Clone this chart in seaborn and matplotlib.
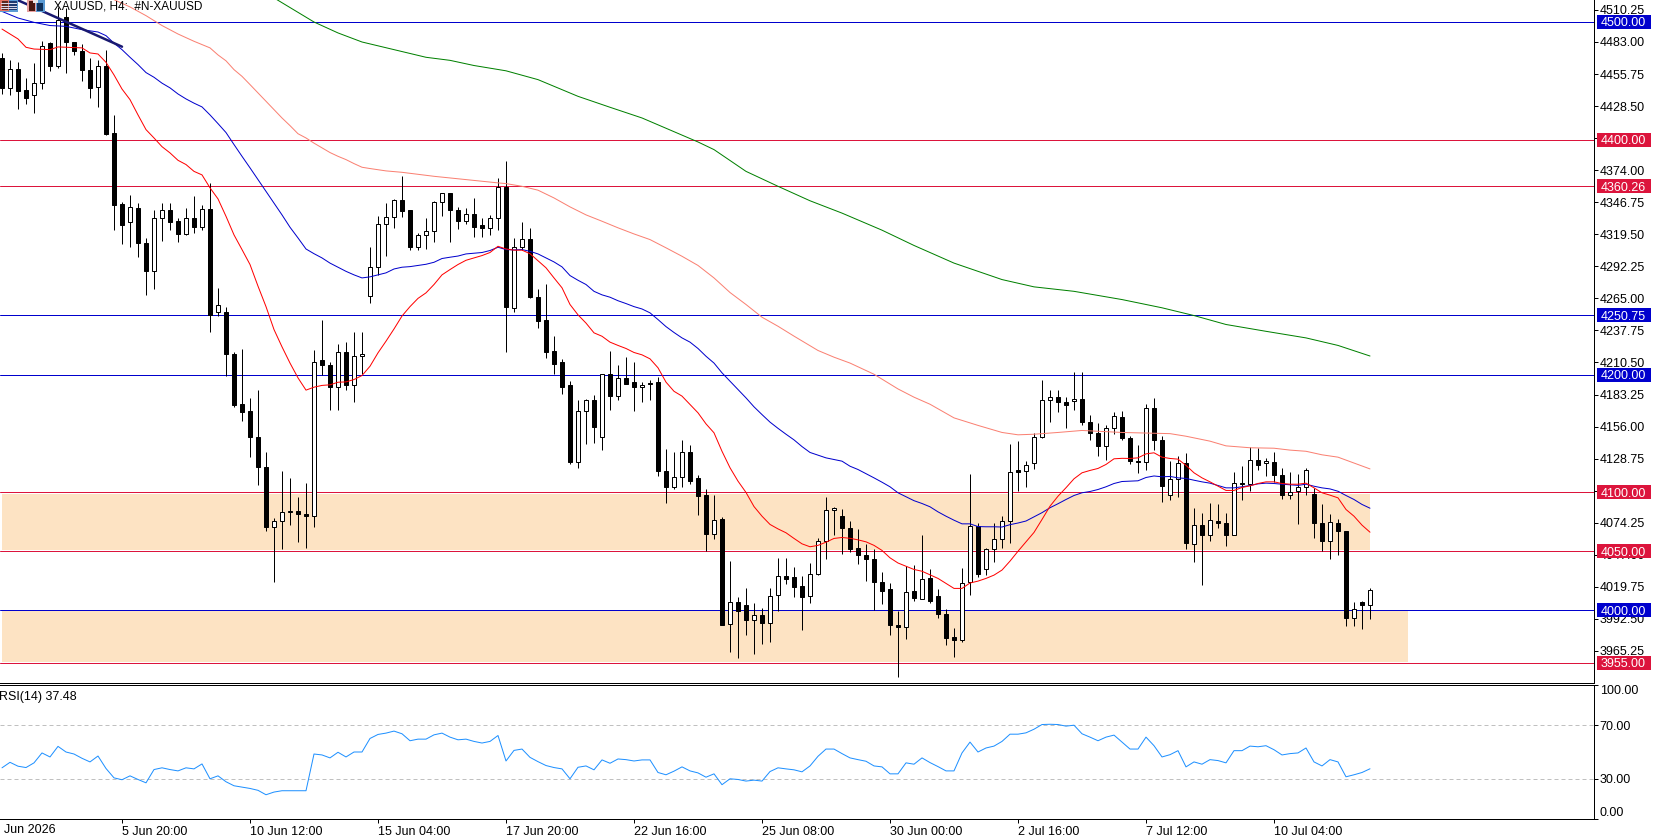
import matplotlib
matplotlib.use("Agg")
import matplotlib.pyplot as plt
from matplotlib.patches import Rectangle
from matplotlib.transforms import blended_transform_factory
import numpy as np
import pandas as pd
import seaborn as sns

# XAUUSD H4 candles, oldest first
opens = [
    4469, 4444, 4460, 4442, 4438, 4448, 4482, 4463, 4504, 4483,
    4475, 4459, 4445, 4463, 4406, 4345, 4330, 4342, 4312, 4288,
    4333, 4340, 4331, 4320, 4333, 4326, 4341, 4253, 4253, 4218,
    4175, 4169, 4147, 4122, 4071, 4076, 4083, 4084.5, 4082, 4080,
    4213, 4208.5, 4190, 4219.5, 4191, 4216, 4267, 4292, 4328, 4334,
    4349, 4340, 4308.5, 4319, 4322, 4347, 4355, 4340, 4331, 4337,
    4327, 4325, 4333, 4360, 4257, 4308.5, 4315.5, 4266.5, 4247, 4220,
    4211, 4191, 4126, 4169.5, 4179, 4147, 4201, 4182, 4197.7, 4193.5,
    4189.5, 4193, 4193.5, 4118.4, 4105, 4113, 4134.5, 4112, 4097.4, 4064.5,
    4077, 3988, 4007, 4004, 3991.7, 3996, 3989, 4012.7, 4029, 4027.7,
    4020.6, 4012, 4031, 4059, 4085, 4079.6, 4070, 4052.4, 4047, 4043.6,
    4024, 4018, 3987.5, 3985.5, 4015.8, 4009.6, 4027, 4011.6, 3997, 3976.7,
    3974.5, 4023.5, 4071.6, 4034.8, 4052, 4060.6, 4075.6, 4118.7, 4118.4, 4125,
    4147, 4178.7, 4181, 4177.3, 4178, 4179.6, 4160, 4150.7, 4139.3, 4155,
    4164, 4146.4, 4127, 4126, 4172, 4144.7, 4098, 4111.6, 4125, 4056.3,
    4072.5, 4064, 4075.9, 4074, 4064, 4108, 4107.3, 4127.7, 4125.2, 4126,
    4115, 4098, 4101, 4104.8, 4098.3, 4074, 4058.9, 4074, 4067.4, 3993,
    4006.5, 4004.2,
]
closes = [
    4444, 4460, 4441, 4435, 4448, 4480, 4463, 4502, 4483, 4475,
    4459, 4444, 4463, 4405, 4344, 4327, 4343, 4312, 4288, 4333,
    4340, 4330, 4320, 4333, 4326, 4341, 4251, 4259.5, 4217.5, 4174,
    4168, 4147, 4121.5, 4071, 4076, 4083, 4084.5, 4081.5, 4080, 4211,
    4208, 4189.5, 4219.5, 4191, 4216, 4218, 4292, 4328, 4334, 4349,
    4339, 4308.5, 4319, 4322, 4347, 4355, 4340, 4330.6, 4337, 4326,
    4325, 4333, 4360, 4257.5, 4308.5, 4315.5, 4266, 4246, 4219, 4209,
    4190, 4125.5, 4169.5, 4179, 4155.5, 4201, 4182, 4197.5, 4192.6, 4189.5,
    4191, 4192, 4118, 4105, 4113, 4134.5, 4109.6, 4097, 4064.5, 4076.5,
    3987, 4007, 3999, 3991.5, 3995.7, 3989, 4012, 4029, 4026, 4020,
    4011, 4031, 4059, 4085, 4087, 4069.6, 4051.5, 4046.7, 4043, 4023.7,
    4016, 3987, 3985.5, 4015.5, 4010, 4026.6, 4007.6, 3996.3, 3976, 3974.5,
    4023, 4071.6, 4030.8, 4052, 4060.6, 4075.6, 4117.5, 4117, 4123.5, 4147,
    4178.7, 4181, 4177, 4174, 4179.6, 4160, 4150.4, 4139.3, 4155, 4165,
    4146, 4127, 4125.7, 4172, 4144.4, 4105.3, 4111.6, 4125, 4057, 4072.5,
    4063.7, 4076.7, 4074, 4063.7, 4107.9, 4107, 4127.7, 4123.2, 4126.9, 4114.7,
    4098, 4100, 4104.8, 4119, 4074, 4058.6, 4075, 4067, 3993, 4001,
    4004.2, 4017.2,
]
highs = [
    4474, 4468, 4466, 4452, 4465, 4484, 4483, 4513, 4512, 4483,
    4481, 4469, 4468, 4476, 4421, 4347, 4353, 4346, 4316, 4340,
    4346, 4346, 4333, 4342, 4352, 4344, 4363, 4274, 4258, 4219,
    4222, 4180, 4187, 4134.5, 4078, 4118, 4112, 4096, 4108, 4221,
    4247, 4211, 4226.5, 4228, 4236, 4236, 4309, 4335, 4346, 4349.5,
    4369, 4340, 4321, 4333, 4348, 4355, 4355, 4343, 4342, 4350,
    4333, 4336, 4367, 4382, 4316, 4330, 4325, 4273, 4277, 4233,
    4213.5, 4195, 4179, 4179.6, 4183, 4201, 4220.6, 4208, 4215, 4210.5,
    4194, 4196, 4198, 4137, 4134, 4145, 4140, 4115, 4102.5, 4098,
    4079, 4042, 4011, 4019, 4006, 4002, 4019, 4044, 4044.4, 4037,
    4029, 4040, 4061.4, 4096, 4087.8, 4085.5, 4076, 4068.5, 4055.8, 4052,
    4032, 4022.6, 3999, 4037.3, 4038, 4063.4, 4034.5, 4018, 4000.5, 3985,
    4036, 4116, 4073.6, 4053, 4074, 4080, 4140.8, 4144, 4127, 4150.7,
    4196, 4186.7, 4186.7, 4181, 4202, 4202.8, 4166, 4159, 4157, 4168,
    4169, 4147.8, 4140, 4175.3, 4180.7, 4148, 4127, 4130.8, 4133.7, 4086.4,
    4082.7, 4091, 4089.8, 4082.7, 4117.8, 4122.6, 4138.5, 4137.4, 4128.9, 4134.5,
    4120.4, 4117.8, 4115.8, 4120.4, 4103.4, 4089.8, 4081.3, 4077, 4067.4, 4006.5,
    4007.6, 4019,
]
lows = [
    4439, 4438, 4426, 4430, 4423, 4443, 4458, 4461, 4457, 4472,
    4450, 4435, 4428, 4404, 4323, 4311, 4309, 4300, 4268, 4273,
    4314, 4323, 4313, 4319, 4321, 4323, 4236, 4250, 4199, 4172.5,
    4161, 4130, 4106, 4067, 4024, 4051.5, 4072, 4058, 4053, 4071,
    4200, 4170.5, 4170, 4187.5, 4177, 4201, 4261, 4285, 4301, 4325,
    4334, 4306, 4306, 4307, 4313, 4335, 4313, 4324, 4328, 4317,
    4317, 4319, 4323.5, 4219, 4253, 4306.5, 4265, 4240, 4214, 4201,
    4184, 4124.6, 4121, 4141.6, 4142, 4136, 4170.5, 4179, 4192, 4169,
    4177, 4178.5, 4114, 4090.6, 4103, 4105, 4107, 4080.7, 4050, 4060,
    3987, 3964, 3959, 3978.5, 3963, 3971, 3973, 3999, 4022, 4010.7,
    3983, 4005.6, 4029.7, 4043, 4064, 4048, 4049, 4038.8, 4024.6, 4000,
    4005, 3979, 3943, 3975, 4008, 4009, 4006, 3993, 3970, 3960,
    3972.8, 4012.4, 4027.7, 4030, 4040.5, 4052.4, 4056.6, 4100.8, 4105, 4120,
    4146, 4160.3, 4168, 4155, 4169.7, 4157, 4144.4, 4130.6, 4128, 4150,
    4145, 4124, 4116.4, 4119.5, 4135.7, 4091.7, 4093.4, 4096, 4051.5, 4040.8,
    4021.2, 4059, 4069.6, 4054.4, 4064, 4093.4, 4101, 4119, 4113.8, 4108.7,
    4094.3, 4094.3, 4072.8, 4097.7, 4060.9, 4050, 4043, 4046.7, 3986.4, 3986.4,
    3983.5, 3992,
]

# Moving averages: bar numbers and values
red_bars = [0, 2, 3, 4, 6, 7] + list(range(10, 172))
red_vals = [
    4494, 4485.6, 4478.5, 4477, 4476.5, 4478.8,
    4478, 4473.7, 4472.8, 4465.7, 4455, 4443, 4434, 4421, 4408.5, 4401.4,
    4394, 4388.7, 4382.4, 4378.8, 4373, 4370, 4359, 4349.6, 4334.8, 4319,
    4306.5, 4293.8, 4275.4, 4258, 4238.5, 4223.8, 4210, 4197.4, 4187, 4189.5,
    4191, 4191.5, 4193.7, 4194, 4196, 4199.4, 4207.3, 4218.7, 4228.6, 4239,
    4250, 4258, 4265, 4269.7, 4276.8, 4285, 4289.5, 4293.8, 4297.4, 4299.4,
    4301.4, 4304, 4309.3, 4307, 4306, 4306, 4303, 4297, 4291, 4282.4,
    4274, 4259.8, 4251, 4244, 4235.7, 4232.8, 4227.8, 4225, 4222.4, 4219,
    4217, 4213.6, 4206, 4193.8, 4186, 4181.9, 4174.8, 4167.7, 4158.3, 4150.7,
    4135, 4121, 4109.6, 4100, 4088, 4079.8, 4072.8, 4069, 4065.7, 4060.9,
    4056.3, 4053.8, 4055, 4057.7, 4060.9, 4061.7, 4061, 4059.7, 4058, 4055,
    4050.7, 4044.4, 4040, 4037.3, 4034.5, 4033, 4030, 4026.9, 4022.6, 4018.4,
    4018.4, 4023, 4024.6, 4026.9, 4029.7, 4034, 4041.6, 4050, 4058, 4066,
    4077, 4088.3, 4096.8, 4104, 4111.6, 4116.7, 4118.7, 4120.4, 4123.8, 4128.6,
    4129, 4128.9, 4129.4, 4132.8, 4133.7, 4130, 4128.9, 4128.3, 4123, 4116.7,
    4112.4, 4109, 4105.3, 4101.7, 4101.7, 4104.2, 4105.6, 4107.6, 4109, 4109,
    4107.6, 4107, 4107, 4107.9, 4103.9, 4099.7, 4097.7, 4095.4, 4085.5, 4079.8,
    4072.2, 4066.2,
]
blue_bars = [0, 2, 4, 6, 8, 10, 12] + list(range(13, 172))
blue_vals = [
    4509, 4503.4, 4499.7, 4497, 4496.3, 4493.5, 4491.5,
    4488.4, 4482, 4476.5, 4470, 4463.8, 4457, 4453,
    4448, 4444, 4438.8, 4434.6, 4431, 4427.8, 4421, 4413.6, 4406, 4395.8,
    4385.8, 4376, 4366, 4356, 4346, 4336, 4325.5, 4316.4, 4307, 4303,
    4299.4, 4295, 4291.5, 4288, 4285, 4282.4, 4283.3, 4285, 4286.7, 4290,
    4291.5, 4292, 4293, 4294, 4295.7, 4298.9, 4300, 4301, 4302.8, 4303.4,
    4304, 4305.7, 4308.5, 4306.5, 4306.2, 4306.5, 4305, 4302.8, 4299.4, 4296,
    4291.8, 4284.4, 4280.4, 4276.8, 4271, 4268, 4266, 4263, 4260.6, 4258,
    4256, 4252.7, 4247, 4241, 4236, 4231.4, 4227.8, 4222.4, 4215.8, 4210,
    4201.7, 4194.6, 4187.5, 4180.4, 4172.8, 4166.2, 4159.8, 4154.5, 4149.5, 4144.7,
    4139, 4134, 4131.7, 4129.4, 4128, 4126.6, 4122.3, 4119.5, 4116, 4112.4,
    4108.7, 4104.8, 4099.7, 4096.3, 4093, 4090.6, 4087.8, 4083.5, 4079.8, 4076.4,
    4073.3, 4073.3, 4071, 4070.8, 4070.8, 4070.6, 4072.6, 4074, 4075.7, 4079.3,
    4082.8, 4087, 4090.4, 4094, 4097.4, 4099.7, 4100.8, 4102.5, 4104.8, 4107.6,
    4109.3, 4109.6, 4109.9, 4112.7, 4114, 4113.3, 4113.6, 4112.4, 4111.9, 4110.4,
    4109, 4107.9, 4105.9, 4103.9, 4103.9, 4104.8, 4105.9, 4107.3, 4107.9, 4107.6,
    4107, 4106.5, 4106, 4107, 4105.3, 4103.9, 4103, 4101, 4097.4, 4094,
    4089.8, 4086.6,
]
salmon_bars = [
    14, 16, 18, 20, 22, 24, 26, 27, 28, 29, 30, 31, 32, 33, 34, 35, 36, 37, 38, 39,
    40, 41, 42, 43, 44, 45, 46, 48, 50, 54, 58, 62, 63, 65, 67, 69, 71, 73, 75, 77,
    79, 81, 83, 85, 87, 89, 91, 93, 95, 97, 99, 102, 104, 106, 109, 112, 114, 116,
    119, 122, 125, 127, 129, 132, 135, 140, 146, 148, 151, 153, 156, 159, 161, 163,
    165, 167, 169, 171,
]
salmon_vals = [
    4519, 4512.8, 4505.4, 4497, 4489.8, 4483.6, 4478, 4472, 4467, 4459.5,
    4453.8, 4446.8, 4439.7, 4432.6, 4425.5, 4418.4, 4411.9, 4405, 4401.4, 4397,
    4393, 4389, 4385.8, 4383, 4379.6, 4376.5, 4375.4, 4373.4, 4372.2, 4368.8,
    4366, 4363.2, 4362.6, 4360.3, 4357, 4350.4, 4342.8, 4336, 4330.6, 4325,
    4319.8, 4315, 4308, 4300.8, 4293, 4282.4, 4270, 4259.8, 4249, 4241.3,
    4232.9, 4220.7, 4215, 4210, 4200.5, 4188, 4181, 4175,
    4163.4, 4157, 4151, 4149, 4149.5, 4151, 4152.7, 4151, 4150, 4147.8,
    4143.6, 4139.6, 4138, 4137.6, 4136, 4135,
    4132, 4130, 4125, 4120,
]
green_bars = [
    34, 39, 42, 45, 49, 53, 56, 59, 63, 67, 72, 76, 80, 87, 89, 93, 97, 101, 105,
    110, 114, 119, 125, 129, 134, 140, 145, 149, 153, 158, 163, 167, 171,
]
green_vals = [
    4520.5, 4500, 4490.7, 4483, 4476.5, 4470, 4467.4, 4463, 4458.5, 4451, 4436.8,
    4427.5, 4418.4, 4398, 4391.5, 4373, 4360.3, 4348, 4337.5, 4323, 4310, 4295,
    4281, 4274.8, 4271, 4264, 4257, 4250.4, 4242.8, 4237, 4231.4, 4225, 4216,
]

# Manual trend line across the opening bars
trend_bars = [1.5, 15]
trend_vals = [4520, 4479]

# RSI(14), one value per bar
rsi_vals = [
    38.2, 42.3, 39.4, 38.4, 41.9, 49.3, 46.3, 54.2, 50, 48.5,
    45.3, 42.6, 47, 37.7, 30.7, 29.3, 32.2, 29.5, 27, 36.9,
    38.2, 36.9, 35.9, 38.2, 37.4, 41.1, 30, 32.2, 27.8, 24.8,
    23.8, 22.8, 21.4, 18.1, 20.1, 21.1, 21.1, 21.1, 21.1, 48.5,
    47.8, 45.6, 49.8, 46.3, 50, 50, 60.1, 63.1, 64.1, 65.6,
    63.6, 58.4, 59.6, 59.6, 62.8, 64.1, 61.1, 59.1, 59.6, 57.9,
    56.7, 57.9, 62.3, 43.3, 51.2, 52.2, 46, 42.8, 39.9, 38.4,
    37.4, 30, 38.6, 39.6, 36.7, 44.1, 41.6, 44.8, 44.3, 43.3,
    44.1, 44.1, 34.7, 33, 35.7, 38.9, 35.9, 34.4,
    31.2, 33.7, 25.6, 30, 29.5, 28.3, 29, 28.3, 35.4, 38.2,
    37.4, 36.7, 35.2, 39.6, 46.8, 52.2, 52.2, 48.8, 45.6, 44.3,
    43.1, 39.6, 38.9, 33.7, 33.7, 41.9, 40.9, 45.6, 42.1, 39.1,
    35.9, 35.9, 49.3, 57.4, 50, 53, 54.4, 57.9, 63.3, 63.3,
    64.3, 67, 70.5, 70.7, 70.5, 69.3, 70, 63.6, 61.1, 58.4,
    61.1, 62.6, 57.4, 52.2, 52.2, 61.1, 54.7, 46.3, 48, 51,
    38.9, 42.6, 40.9, 44.3, 43.6, 41.9, 51, 51, 54.4, 53.9,
    54.7, 51.7, 47.8, 48.8, 49.3, 53, 42.6, 39.6, 44.3, 42.6,
    31.5, 33, 34.7, 37.48,
]

# Horizontal levels and their price-scale tags
level_prices = [4500.00, 4400.00, 4360.26, 4250.75, 4200.00, 4100.00, 4050.00, 4000.00, 3955.00]
level_colors = ["#0000CD", "#DC143C", "#DC143C", "#0000CD", "#0000CD", "#DC143C", "#DC143C", "#0000CD", "#DC143C"]

price_ticks = [
    4510.25, 4483.00, 4455.75, 4428.50, 4401.25, 4374.00, 4346.75, 4319.50, 4292.25,
    4265.00, 4237.75, 4210.50, 4183.25, 4156.00, 4128.75, 4101.50, 4074.25, 4047.00,
    4019.75, 3992.50, 3965.25,
]
date_bars = [15, 31, 47, 63, 79, 95, 111, 127, 143, 159]
date_labels = [
    "5 Jun 20:00", "10 Jun 12:00", "15 Jun 04:00", "17 Jun 20:00", "22 Jun 16:00",
    "25 Jun 08:00", "30 Jun 00:00", "2 Jul 16:00", "7 Jul 12:00", "10 Jul 04:00",
]

# Supply / demand zones: first bar, last bar, low, high
zone_upper = (-0.05, 171, 4051, 4098.5)
zone_lower = (-0.05, 175.7, 3956, 3999)

sns.set_theme(style="white")
plt.rcParams["font.family"] = ["Liberation Sans", "DejaVu Sans"]

W, H = 1658, 838
PX = 72 / 100  # one pixel in points
AX_W = 1594.0
fig = plt.figure(figsize=(W / 100, H / 100), dpi=100, facecolor="white")
ax = fig.add_axes([0, 1 - 683.0 / H, AX_W / W, 683.0 / H])
rsi_ax = fig.add_axes([0, 1 - 819.0 / H, AX_W / W, (819.0 - 685.0) / H], sharex=ax)

ax.set_xlim(-0.25, 199)
ax.set_ylim(4500 - (683.0 - 22.0) / 1.1761, 4500 + 22.0 / 1.1761)
rsi_ax.set_ylim(0, 100)

for a in (ax, rsi_ax):
    a.set_facecolor("white")
    a.grid(False)
    a.spines["left"].set_visible(False)
    a.spines["right"].set_linewidth(PX)
    a.spines["bottom"].set_linewidth(PX)
    a.spines["right"].set_color("black")
    a.spines["bottom"].set_color("black")
    a.yaxis.tick_right()
    a.tick_params(axis="y", which="major", right=True, length=3.2, width=PX, color="black",
                  labelsize=9, pad=1, labelcolor="black")
ax.spines["top"].set_visible(False)
rsi_ax.spines["top"].set_linewidth(PX)
rsi_ax.spines["top"].set_color("black")

# Zones
for x0, x1, lo, hi in (zone_upper, zone_lower):
    ax.add_patch(Rectangle((x0, lo), x1 - x0, hi - lo, facecolor="#FDE3C3", edgecolor="none",
                           zorder=1, antialiased=False))

# Levels
for price, color in zip(level_prices, level_colors):
    ax.axhline(price, color=color, lw=PX, zorder=2)

# Candles
bars = np.arange(len(opens))
o, c, h, l = map(np.array, (opens, closes, highs, lows))
ax.vlines(bars, l, h, color="black", lw=PX, zorder=3)
body_low = np.minimum(o, c)
body_size = np.abs(c - o)
up = c >= o
ax.bar(bars[up], body_size[up], bottom=body_low[up], width=0.5, facecolor="white",
       edgecolor="black", linewidth=PX, zorder=4)
ax.bar(bars[~up], body_size[~up], bottom=body_low[~up], width=0.5, facecolor="black",
       edgecolor="black", linewidth=PX, zorder=4)


def draw_average(axis, xs, ys, color, lw=PX, z=5):
    frame = pd.DataFrame({"bar": xs, "value": ys})
    sns.lineplot(data=frame, x="bar", y="value", ax=axis, color=color, linewidth=lw,
                 estimator=None, sort=False, legend=False, zorder=z)


draw_average(ax, green_bars, green_vals, "#008000")
draw_average(ax, salmon_bars, salmon_vals, "#FA8072")
draw_average(ax, blue_bars, blue_vals, "#0000CD")
draw_average(ax, red_bars, red_vals, "#FF0000")
draw_average(ax, trend_bars, trend_vals, "#191970", lw=2.5 * PX, z=6)

# Price scale
ax.set_yticks(price_ticks)
ax.set_yticklabels([f"{t:.2f}" for t in price_ticks])
ax.set_xlabel("")
ax.set_ylabel("")
ax.tick_params(axis="x", which="both", bottom=False, labelbottom=False)

# Level tags on the price scale
tag_tf = blended_transform_factory(ax.transAxes, ax.transData)
tag_left = 1597 / AX_W
tag_width = (1651 - 1597) / AX_W
tag_height = 14 / 1.1761
for price, color in zip(level_prices, level_colors):
    ax.add_patch(Rectangle((tag_left, price - tag_height / 2), tag_width, tag_height,
                           transform=tag_tf, facecolor=color, edgecolor="none",
                           clip_on=False, zorder=7, antialiased=False))
    ax.text(tag_left + 4 / AX_W, price, f"{price:.2f}", transform=tag_tf, color="white",
            fontsize=9, ha="left", va="center_baseline", clip_on=False, zorder=8)

# Chart caption
ax.text(54 / AX_W, 1 - 6.5 / 683.0, "XAUUSD, H4:  #N-XAUUSD", transform=ax.transAxes,
        fontsize=8.5, color="black", ha="left", va="center", zorder=9)

# RSI panel
rsi_frame = pd.DataFrame({"bar": bars, "rsi": rsi_vals})
rsi_ax.axhline(70, color="#C0C0C0", lw=PX, ls=(0, (4, 3)), zorder=1)
rsi_ax.axhline(30, color="#C0C0C0", lw=PX, ls=(0, (4, 3)), zorder=1)
sns.lineplot(data=rsi_frame, x="bar", y="rsi", ax=rsi_ax, color="#1E90FF", linewidth=PX,
             estimator=None, legend=False, zorder=3)
rsi_ax.set_xlabel("")
rsi_ax.set_ylabel("")
rsi_ax.set_yticks([0, 30, 70, 100])
rsi_ax.set_yticklabels(["0.00", "30.00", "70.00", "100.00"])
rsi_labels = rsi_ax.get_yticklabels()
rsi_labels[0].set_verticalalignment("bottom")
rsi_labels[3].set_verticalalignment("top")
rsi_ax.text(-1 / AX_W, 1 - 11.5 / 134, "RSI(14) 37.48", transform=rsi_ax.transAxes,
            fontsize=9, color="black", ha="left", va="center")

# Time scale
rsi_ax.set_xticks(date_bars)
rsi_ax.set_xticklabels(date_labels, ha="left")
rsi_ax.tick_params(axis="x", which="major", bottom=True, length=3.2, width=PX, color="black",
                   labelsize=9, pad=1.5, labelcolor="black")
rsi_ax.text(4 / AX_W, -11 / 134, "Jun 2026", transform=rsi_ax.transAxes, fontsize=9,
            color="black", ha="left", va="center", clip_on=False)


def icon_rect(x, y, w, h, color):
    fig.add_artist(Rectangle((x / W, 1 - (y + h) / H), w / W, h / H, facecolor=color,
                             edgecolor="none", transform=fig.transFigure, antialiased=False,
                             zorder=10))


# Toolbar icons in the corner
icon_rect(0, 0, 18, 12, "#5B9BD5")
icon_rect(0, 0, 9, 11, "#E07060")
icon_rect(2, 1, 6, 9, "#5A2A20")
icon_rect(9, 1, 8, 9, "#1F3A70")
for yy in (3, 6, 8):
    icon_rect(1, yy, 16, 1, "#D8D8E8")
icon_rect(27, 0, 9, 12, "#E8A0A0")
icon_rect(29, 1, 6, 10, "#4A1810")
icon_rect(36, 0, 9, 12, "#5B9BD5")
icon_rect(37, 3, 6, 8, "#10305A")
icon_rect(33, 0, 5, 3, "#E8E8E8")

fig.savefig("out.png", dpi=100, facecolor="white")
